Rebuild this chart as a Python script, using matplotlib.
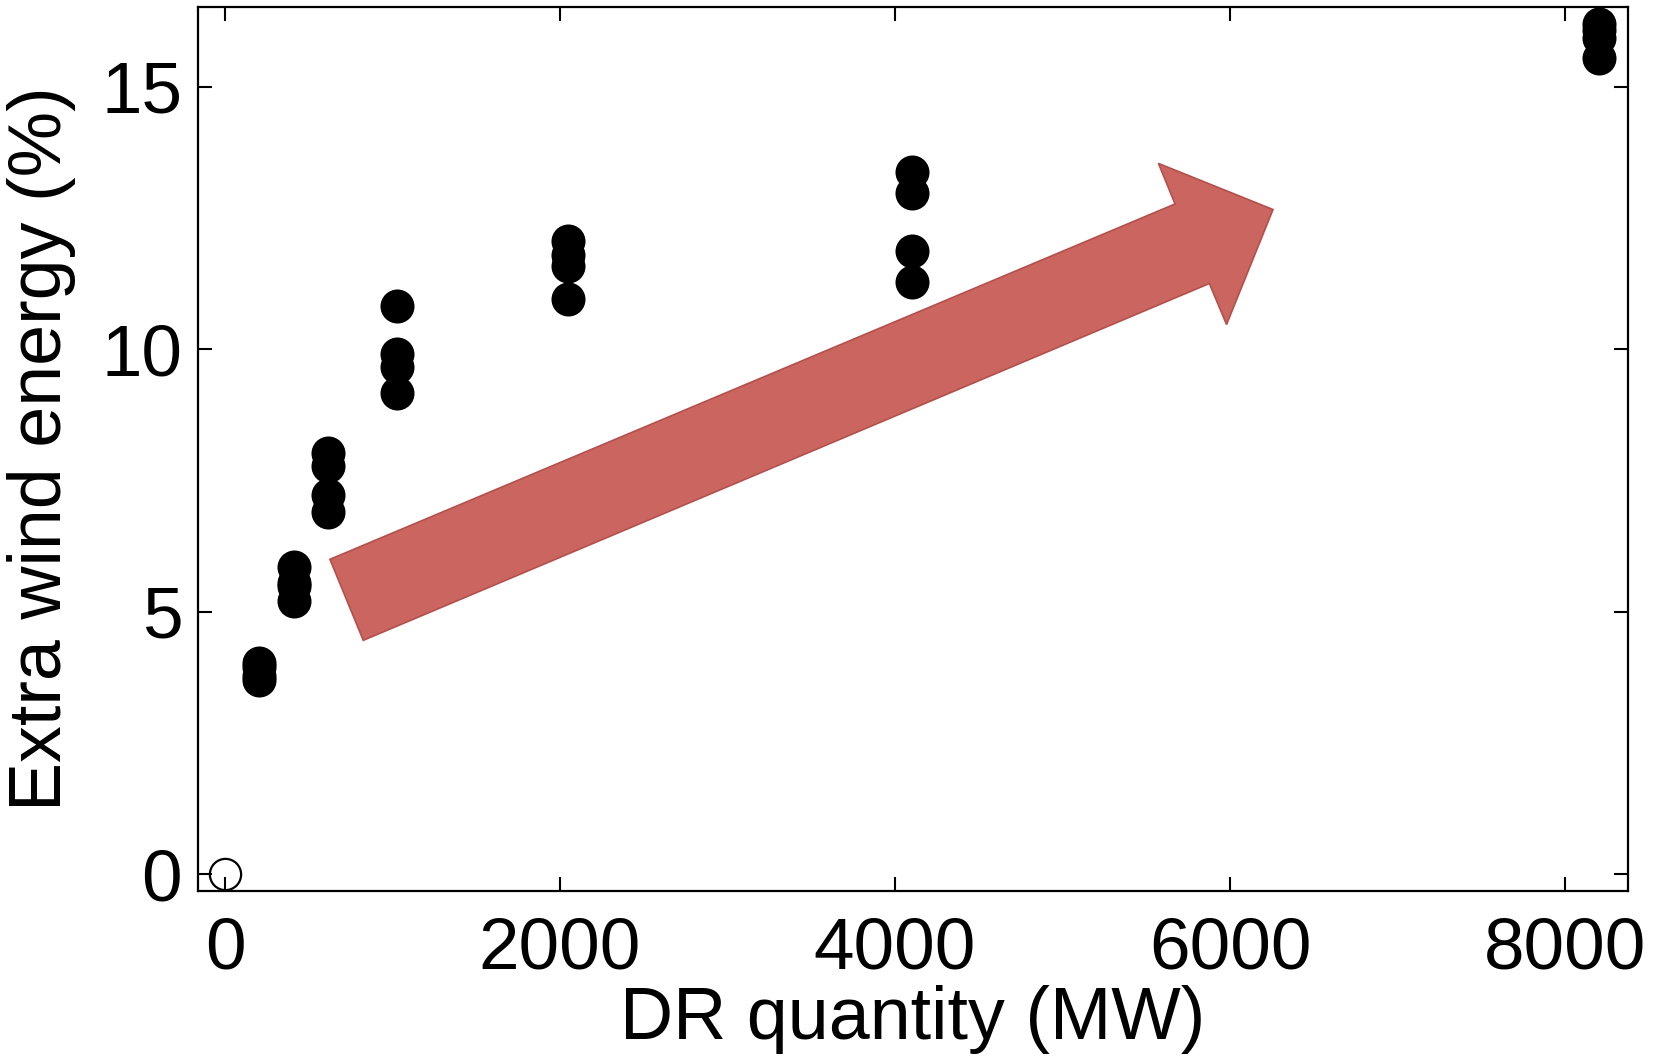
import matplotlib
matplotlib.use("Agg")
import matplotlib.pyplot as plt
from matplotlib.patches import Polygon

plt.rcParams['font.family'] = ['Liberation Sans', 'DejaVu Sans']

# Data
dr_quantity = [205, 410, 615, 1025, 2050, 4100, 8200]
extra_wind = [
    [4.02, 3.95, 3.78, 3.70],
    [5.86, 5.55, 5.48, 5.20],
    [8.02, 7.78, 7.23, 6.89],
    [10.82, 9.91, 9.65, 9.17],
    [12.05, 11.80, 11.59, 10.95],
    [13.37, 12.98, 11.87, 11.28],
    [16.20, 16.08, 15.92, 15.54],
]
baseline_x = [0]
baseline_y = [0]
x_ticks = [0, 2000, 4000, 6000, 8000]
y_ticks = [0, 5, 10, 15]

# Arrow outline (axes fraction)
arrow_outline = [
    (0.0926, 0.3753), (0.6835, 0.7770), (0.6719, 0.8228), (0.7520, 0.7707),
    (0.7195, 0.6407), (0.7075, 0.6871), (0.1159, 0.2837),
]

fig = plt.figure(figsize=(16.6, 10.61), dpi=100)
ax = fig.add_axes([0.11898, 0.15994, 0.86157, 0.83375])

xs, ys = [], []
for x, vals in zip(dr_quantity, extra_wind):
    for v in vals:
        xs.append(x)
        ys.append(v)
ax.plot(xs, ys, 'o', color='black', ms=24.5, mew=0, ls='none', clip_on=False, zorder=3)
ax.plot(baseline_x, baseline_y, 'o', mfc='none', mec='black', ms=22.5, mew=1.6,
        ls='none', clip_on=False, zorder=3)

arrow = Polygon(arrow_outline, closed=True, transform=ax.transAxes,
                facecolor='#CB6560', edgecolor='#B4504B', lw=1.2, zorder=4)
ax.add_patch(arrow)

ax.set_xlim(-164, 8374)
ax.set_ylim(-0.324, 16.52)
ax.set_xticks(x_ticks)
ax.set_yticks(y_ticks)
ax.set_xticklabels([str(t) for t in x_ticks])
ax.set_yticklabels([str(t) for t in y_ticks])

for s in ax.spines.values():
    s.set_linewidth(1.6)
ax.tick_params(direction='in', length=10, width=1.5, top=True, right=True,
               labelsize=52.5, colors='black')
ax.tick_params(axis='x', pad=18)
ax.tick_params(axis='y', pad=11)

ax.set_xlabel('DR quantity (MW)', fontsize=53)
ax.set_ylabel('Extra wind energy (%)', fontsize=53)
ax.xaxis.set_label_coords(0.5, -0.106)
ax.yaxis.set_label_coords(-0.085, 0.5007)

fig.savefig('out.png', dpi=100)
